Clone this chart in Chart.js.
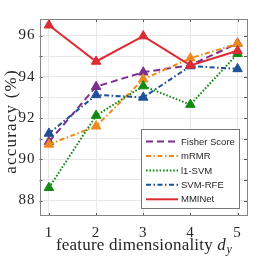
<!DOCTYPE html>
<html>
<head>
<meta charset="utf-8">
<script src="https://cdn.jsdelivr.net/npm/chart.js@4.4.1/dist/chart.umd.min.js"></script>
<style>
  html, body { margin: 0; padding: 0; background: #fff; }
  #wrap { width: 274px; height: 258px; }
</style>
</head>
<body>
<div id="wrap"><canvas id="chart" width="274" height="258"></canvas></div>
<script>
// valeurs
const dims = [1, 2, 3, 4, 5];
const fisherScore = [90.85, 93.52, 94.22, 94.56, 95.62];
const mrmr = [90.72, 91.6, 93.88, 94.9, 95.6];
const l1svm = [88.62, 92.12, 93.55, 92.65, 95.12];
const svmRfe = [91.25, 93.12, 93.0, 94.52, 94.38];
const mminet = [96.5, 94.74, 95.97, 94.55, 95.26];
const yTicks = [88, 89, 90, 91, 92, 93, 94, 95, 96];

const serif = '"Liberation Serif", "DejaVu Serif", serif';
const sans = '"Liberation Sans", Arial, sans-serif';

const series = [
    { label: 'Fisher Score', data: fisherScore, color: '#7e2f8e', dash: [7, 4], order: 5 },
    { label: 'mRMR', data: mrmr, color: '#ec8b1c', dash: [5, 2.5, 1.5, 2.5], order: 4 },
    { label: 'l1-SVM', data: l1svm, color: '#138a13', dash: [1.6, 1.8], order: 3 },
    { label: 'SVM-RFE', data: svmRfe, color: '#1f4f96', dash: [5, 2.5, 1.5, 2.5], order: 2 },
    { label: 'MMINet', data: mminet, color: '#dc2b33', dash: [], order: 1 }
];

// cadre, petites graduations, légende et titres des axes
const extras = {
    id: 'extras',
    beforeDraw(chart) {
        // chiffres plus larges, façon Computer Modern
        chart.ctx.letterSpacing = '1px';
    },
    afterDraw(chart) {
        const { ctx, chartArea: a, scales } = chart;
        ctx.save();
        ctx.letterSpacing = '0px';
        // graduations vers l'intérieur
        ctx.strokeStyle = '#555';
        ctx.lineWidth = 1;
        ctx.beginPath();
        dims.forEach(v => {
            const x = Math.round(scales.x.getPixelForValue(v)) + 0.5;
            ctx.moveTo(x, a.bottom); ctx.lineTo(x, a.bottom - 3);
            ctx.moveTo(x, a.top); ctx.lineTo(x, a.top + 3);
        });
        yTicks.forEach(v => {
            const y = Math.round(scales.y.getPixelForValue(v)) + 0.5;
            ctx.moveTo(a.left, y); ctx.lineTo(a.left + 3, y);
            ctx.moveTo(a.right, y); ctx.lineTo(a.right - 3, y);
        });
        ctx.stroke();
        // cadre
        ctx.strokeStyle = '#858585';
        ctx.strokeRect(Math.round(a.left) + 0.5, Math.round(a.top) + 0.5,
            Math.round(a.right - a.left) - 1, Math.round(a.bottom - a.top) - 1);

        // légende
        const lx = 141.5, ly = 129.5, lw = 98, lh = 79;
        ctx.fillStyle = '#fff';
        ctx.fillRect(lx, ly, lw, lh);
        ctx.strokeStyle = '#777';
        ctx.strokeRect(lx, ly, lw, lh);
        ctx.font = '9.5px ' + sans;
        ctx.textBaseline = 'middle';
        series.forEach((s, i) => {
            const y = 141.5 + i * 14.45;
            ctx.strokeStyle = s.color;
            ctx.lineWidth = 2;
            ctx.setLineDash(s.dash);
            ctx.beginPath();
            ctx.moveTo(146, y); ctx.lineTo(178, y);
            ctx.stroke();
            ctx.setLineDash([]);
            ctx.fillStyle = '#262626';
            ctx.fillText(s.label, 181, y + 0.5);
        });

        ctx.fillStyle = '#262626';
        ctx.textBaseline = 'alphabetic';

        // titre de l'axe y
        ctx.save();
        ctx.translate(15.5, (a.top + a.bottom) / 2 + 4);
        ctx.rotate(-Math.PI / 2);
        ctx.font = '17px ' + serif;
        ctx.letterSpacing = '1.2px';
        ctx.textAlign = 'center';
        ctx.fillText('accuracy (%)', 0, 0);
        ctx.restore();

        // titre de l'axe x
        const main = 'feature dimensionality ';
        let x = 56;
        const base = 249.5;
        ctx.font = '17px ' + serif;
        ctx.letterSpacing = '0.2px';
        ctx.fillText(main, x, base);
        x += ctx.measureText(main).width;
        ctx.font = 'italic 17px ' + serif;
        ctx.fillText('d', x, base);
        x += ctx.measureText('d').width + 0.5;
        ctx.font = 'italic 12px ' + serif;
        ctx.fillText('y', x, base + 3.5);
        ctx.restore();
    }
};

new Chart(document.getElementById('chart'), {
    type: 'line',
    data: {
        datasets: series.map(s => ({
            label: s.label,
            data: s.data.map((v, i) => ({ x: dims[i], y: v })),
            borderColor: s.color,
            backgroundColor: s.color,
            borderWidth: 2,
            borderDash: s.dash,
            pointStyle: 'triangle',
            pointRadius: 5.5,
            pointBorderWidth: 1,
            pointBackgroundColor: s.color,
            pointBorderColor: s.color,
            tension: 0,
            order: s.order
        }))
    },
    options: {
        responsive: false,
        animation: false,
        events: [],
        layout: { padding: { left: 0, right: 27, top: 19, bottom: 0 } },
        plugins: { legend: { display: false }, tooltip: { enabled: false } },
        scales: {
            x: {
                type: 'linear',
                min: 0.8,
                max: 5.2,
                afterBuildTicks: s => { s.ticks = dims.map(v => ({ value: v })); },
                afterFit: s => { s.height = 42; },
                grid: { color: '#e8e8e8', drawTicks: false },
                border: { display: false },
                ticks: { font: { family: serif, size: 15 }, color: '#262626', padding: 8 }
            },
            y: {
                min: 87.25,
                max: 96.8,
                afterBuildTicks: s => { s.ticks = yTicks.map(v => ({ value: v })); },
                afterFit: s => { s.width = 39.5; },
                grid: { color: '#e8e8e8', drawTicks: false },
                border: { display: false },
                ticks: {
                    font: { family: serif, size: 15 },
                    color: '#262626',
                    padding: 4,
                    callback: v => (v % 2 === 0 ? String(v) : '')
                }
            }
        }
    },
    plugins: [extras]
});
</script>
</body>
</html>
